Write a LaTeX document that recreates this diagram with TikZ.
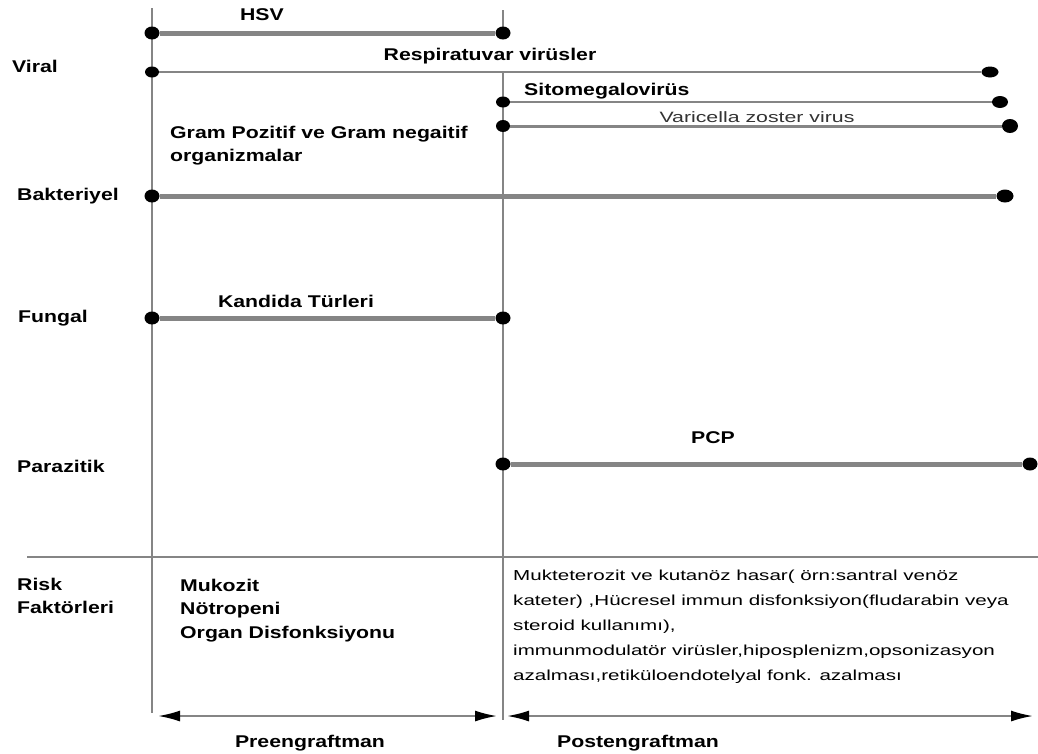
\documentclass[tikz,border=0pt]{standalone}
\usepackage{fontspec}
\usetikzlibrary{shapes.geometric,arrows.meta}
\newfontfamily\lblfont{Liberation Sans}[FakeStretch=1.25]
\newfontfamily\regfont{Liberation Sans}[FakeStretch=1.42]
\definecolor{linegray}{HTML}{858585}
\tikzset{
  lbl/.style={font=\fontsize{17}{20}\lblfont\bfseries, inner sep=0, anchor=base west},
  lblc/.style={font=\fontsize{17}{20}\lblfont\bfseries, inner sep=0, anchor=base},
  reg/.style={font=\fontsize{14.5}{25}\regfont, inner sep=0, align=left},
  dotnode/.style={shape=ellipse, fill=black, minimum width=15pt, minimum height=13pt, inner sep=0},
  vline/.style={draw=linegray, line width=2.8pt},
  thickline/.style={draw=linegray, line width=5pt},
  thinline/.style={draw=linegray, line width=2.2pt},
  midline/.style={draw=linegray, line width=3pt},
  tipA/.style={},
  span/.style={draw=linegray, line width=2pt, {Latex[length=22pt,width=11pt,black]}-{Latex[length=22pt,width=11pt,black]}}
}
\begin{document}
\begin{tikzpicture}[x=1pt,y=-1pt]
\useasboundingbox (0,0) rectangle (1038,753);
\fill[white] (0,0) rectangle (1038,753);
% vertical lines and separator
\coordinate (v1t) at (152,8);
\coordinate (v1b) at (152,713);
\coordinate (v2a) at (503,10);
\coordinate (v2b) at (503,33);
\coordinate (v2c) at (503,72);
\coordinate (v2d) at (503,720);
\coordinate (sepL) at (27,557);
\coordinate (sepR) at (1038,557);
\draw[vline] (v1t) -- (v1b);
\draw[vline] (v2a) -- (v2b);
\draw[vline] (v2c) -- (v2d);
\draw[vline] (sepL) -- (sepR);
% dots
\node[dotnode] (hsvA) at (152,33) {};
\node[dotnode] (hsvB) at (503,33) {};
\node[dotnode, minimum width=14pt, minimum height=11pt] (resA) at (152,72) {};
\node[dotnode, minimum width=17pt, minimum height=11pt] (resB) at (990,72) {};
\node[dotnode, minimum width=14pt, minimum height=11pt] (cmvA) at (503,102) {};
\node[dotnode, minimum width=16pt, minimum height=12pt] (cmvB) at (1000,102) {};
\node[dotnode, minimum width=14pt, minimum height=12pt] (vzvA) at (503,126) {};
\node[dotnode, minimum width=16pt, minimum height=14pt] (vzvB) at (1010,126) {};
\node[dotnode] (bakA) at (152,196) {};
\node[dotnode, minimum width=17pt] (bakB) at (1005,196) {};
\node[dotnode] (funA) at (152,318) {};
\node[dotnode] (funB) at (503,318) {};
\node[dotnode] (pcpA) at (503,464) {};
\node[dotnode] (pcpB) at (1030,464) {};
% pathogen lines
\draw[thickline] (hsvA) -- (hsvB);
\draw[thinline] (resA) -- (resB);
\draw[thinline] (cmvA) -- (cmvB);
\draw[midline] (vzvA) -- (vzvB);
\draw[thickline] (bakA) -- (bakB);
\draw[thickline] (funA) -- (funB);
\draw[thickline] (pcpA) -- (pcpB);
% line labels
\node[lblc] (tHSV) at (262,20) {HSV};
\node[lblc] (tRes) at (490,60) {Respiratuvar virüsler};
\node[lbl] (tCMV) at (524,95) {Sitomegalovirüs};
\node[font=\fontsize{15}{18}\regfont, text=black!80, inner sep=0, anchor=base] (tVZV) at (757,122) {Varicella zoster virus};
\node[lbl] (tGram1) at (170,138) {Gram Pozitif ve Gram negaitif};
\node[lbl] (tGram2) at (170,161) {organizmalar};
\node[lblc] (tKan) at (296,307) {Kandida Türleri};
\node[lblc] (tPCP) at (713,443) {PCP};
% category labels
\node[lbl] (cVir) at (12,72) {Viral};
\node[lbl] (cBak) at (17,200) {Bakteriyel};
\node[lbl] (cFun) at (18,322) {Fungal};
\node[lbl] (cPar) at (17,472) {Parazitik};
\node[lbl] (cRisk1) at (17,590) {Risk};
\node[lbl] (cRisk2) at (17,613) {Faktörleri};
% risk factors
\node[lbl] (rPre1) at (180,591) {Mukozit};
\node[lbl] (rPre2) at (180,614) {Nötropeni};
\node[lbl] (rPre3) at (180,638) {Organ Disfonksiyonu};
\node[reg, anchor=north west] (rPost) at (513,570) {Mukteterozit ve kutanöz hasar( örn:santral venöz\\kateter) ,Hücresel immun disfonksiyon(fludarabin veya\\steroid kullanımı),\\immunmodulatör virüsler,hiposplenizm,opsonizasyon\\azalması,retiküloendotelyal fonk. azalması};
% phase spans
\coordinate (preL) at (158,716);
\coordinate (preR) at (497,716);
\coordinate (postL) at (507,716);
\coordinate (postR) at (1033,716);
\draw[span] (preL) -- (preR);
\draw[span] (postL) -- (postR);
\node[lblc] (pPre) at (310,747) {Preengraftman};
\node[lblc] (pPost) at (638,747) {Postengraftman};
\end{tikzpicture}
\end{document}
